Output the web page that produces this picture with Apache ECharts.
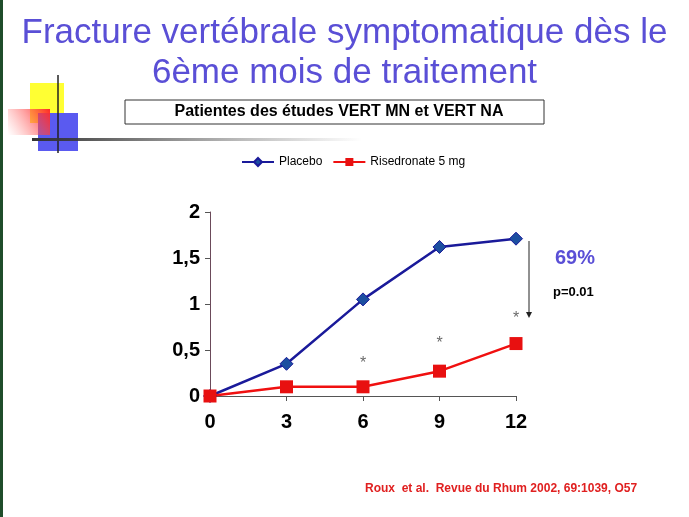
<!DOCTYPE html>
<html><head><meta charset="utf-8">
<script src="https://cdn.jsdelivr.net/npm/echarts@6/dist/echarts.min.js"></script>
<style>html,body{margin:0;padding:0;background:#fff}#c{width:689px;height:517px}</style>
</head><body><div id="c"></div>
<script>
const categories = ['0','3','6','9','12'];
const placebo = [0, 0.35, 1.05, 1.62, 1.71];
const risedronate = [0, 0.1, 0.1, 0.27, 0.57];
const starPoints = [['6', 0.35], ['9', 0.57], ['12', 0.84]];
const yTicks = ['0','0,5','1','1,5','2'];

const chart = echarts.init(document.getElementById('c'));
const F = 'Liberation Sans, Arial, sans-serif';
const FN = 'Liberation Sans Narrow, Arial Narrow, Liberation Sans, sans-serif';
chart.setOption({
  backgroundColor: '#fff',
  animation: false,
  title: {
    text: 'Fracture vertébrale symptomatique dès le\n6ème mois de traitement',
    left: 'center', top: 8,
    textStyle: {color: '#5a4fd6', fontFamily: F, fontSize: 35, fontWeight: 'normal', lineHeight: 40}
  },
  legend: {
    top: 151, left: 236, itemGap: 10, itemWidth: 32, itemHeight: 10,
    textStyle: {fontFamily: FN, fontSize: 12, color: '#000'},
    data: ['Placebo', 'Risedronate 5 mg']
  },
  grid: {left: 210, right: 173, top: 212, bottom: 121},
  xAxis: {
    type: 'category', data: categories, boundaryGap: false,
    axisLine: {lineStyle: {color: '#555', width: 1}},
    axisTick: {show: true, length: 5, lineStyle: {color: '#555'}},
    axisLabel: {fontFamily: FN, fontSize: 20, fontWeight: 'bold', color: '#000', margin: 16}
  },
  yAxis: {
    type: 'value', min: 0, max: 2, interval: 0.5,
    splitLine: {show: false},
    axisLine: {show: true, lineStyle: {color: '#6b4a5a'}},
    axisTick: {show: true, length: 5, lineStyle: {color: '#555'}},
    axisLabel: {fontFamily: FN, fontSize: 20, fontWeight: 'bold', color: '#000', margin: 10,
      formatter: v => yTicks[Math.round(v * 2)]}
  },
  series: [
    {name: 'Placebo', type: 'line', data: placebo, symbol: 'diamond', symbolSize: 13,
      lineStyle: {color: '#1a1a9a', width: 2.5}, itemStyle: {color: '#1c4fa0', borderColor: '#1a1a9a', borderWidth: 1}},
    {name: 'Risedronate 5 mg', type: 'line', data: risedronate, symbol: 'rect', symbolSize: 13,
      lineStyle: {color: '#f01010', width: 2.5}, itemStyle: {color: '#e81010'}, z: 3},
    {name: 'stars', type: 'scatter', data: starPoints, symbolSize: 1, itemStyle: {color: 'rgba(0,0,0,0)'},
      label: {show: true, formatter: '*', position: 'inside', fontSize: 16, color: '#444', fontFamily: F}}
  ],
  graphic: [
    {type: 'rect', shape: {x: 0, y: 0, width: 3, height: 517}, style: {fill: '#1f4d2a'}},
    {type: 'rect', shape: {x: 30, y: 83, width: 34, height: 40}, style: {fill: '#ffff33'}},
    {type: 'rect', shape: {x: 38, y: 113, width: 40, height: 38}, style: {fill: '#5a5af0'}},
    {type: 'rect', shape: {x: 8, y: 109, width: 42, height: 26},
      style: {fill: {type: 'linear', x: 1, y: 0, x2: 0, y2: 1, colorStops: [{offset: 0, color: 'rgba(255,40,40,1)'}, {offset: 1, color: 'rgba(255,120,120,0)'}]}}},
    {type: 'line', shape: {x1: 58, y1: 75, x2: 58, y2: 153}, style: {stroke: '#222', lineWidth: 1.5}},
    {type: 'rect', shape: {x: 32, y: 138, width: 330, height: 3},
      style: {fill: {type: 'linear', x: 0, y: 0, x2: 1, y2: 0, colorStops: [{offset: 0, color: '#333'}, {offset: 1, color: 'rgba(80,80,80,0)'}]}}},
    {type: 'rect', shape: {x: 125, y: 100, width: 419, height: 24}, style: {fill: '#fff', stroke: '#333', lineWidth: 1}},
    {type: 'text', x: 339, y: 112, style: {text: 'Patientes des études VERT MN et VERT NA', fontFamily: F, fontSize: 16, fontWeight: 'bold', fill: '#000', align: 'center', verticalAlign: 'middle'}},
    {type: 'line', shape: {x1: 529, y1: 241, x2: 529, y2: 315}, style: {stroke: '#222', lineWidth: 1}},
    {type: 'polygon', shape: {points: [[526, 312], [532, 312], [529, 318]]}, style: {fill: '#222'}},
    {type: 'text', x: 555, y: 248, style: {text: '69%', fontFamily: F, fontSize: 20, fontWeight: 'bold', fill: '#5a4fd6'}},
    {type: 'text', x: 553, y: 286, style: {text: 'p=0.01', fontFamily: F, fontSize: 13, fontWeight: 'bold', fill: '#000'}},
    {type: 'text', x: 365, y: 483, style: {text: 'Roux  et al.  Revue du Rhum 2002, 69:1039, O57', fontFamily: F, fontSize: 12, fontWeight: 'bold', fill: '#e02020'}}
  ]
});
</script></body></html>
